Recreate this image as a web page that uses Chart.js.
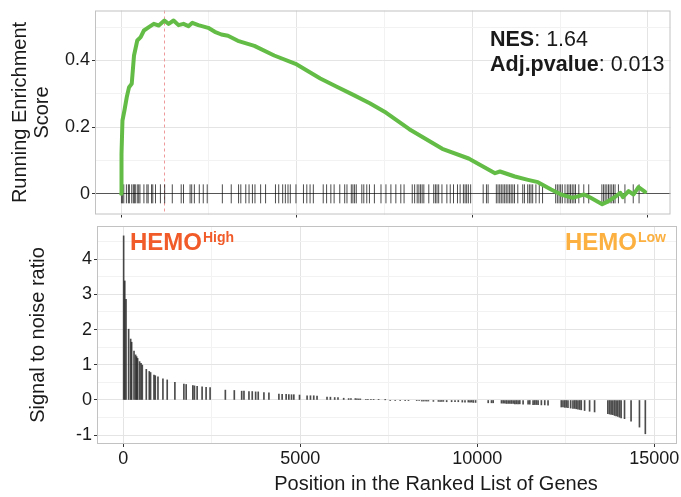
<!DOCTYPE html>
<html>
<head>
<meta charset="utf-8">
<script src="https://cdn.jsdelivr.net/npm/chart.js@4.4.1/dist/chart.umd.min.js"></script>
<style>
	body { margin: 0; background: #fff; }
	#wrap { position: relative; width: 681px; height: 497px; }
	canvas { position: absolute; left: 0; }
	#chart__es { top: 0; }
	#chart__snr { top: 220px; }
</style>
</head>
<body>
<div id="wrap">
	<canvas id="chart__es" width="681" height="225"></canvas>
	<canvas id="chart__snr" width="681" height="277"></canvas>
</div>
<script>
// Running enrichment score
const esPosition = [0, 10, 37, 93, 160, 225, 301, 366, 459, 555, 648, 789, 930, 1070, 1231, 1352, 1493, 1634, 1775, 1916, 2028, 2197, 2479, 2667, 2854, 3042, 3324, 3794, 4358, 4967, 5671, 6141, 6611, 7080, 7550, 8206, 9146, 9896, 10648, 10789, 11212, 11587, 11869, 12245, 12527, 12854, 13184, 13372, 13700, 13840, 14029, 14216, 14290, 14451, 14592, 14733, 14921];
const esScore = [0, 0.12, 0.22, 0.25, 0.29, 0.32, 0.33, 0.415, 0.46, 0.47, 0.49, 0.5, 0.51, 0.505, 0.52, 0.51, 0.52, 0.506, 0.51, 0.503, 0.513, 0.506, 0.498, 0.486, 0.478, 0.474, 0.459, 0.444, 0.415, 0.39, 0.346, 0.321, 0.297, 0.272, 0.243, 0.194, 0.135, 0.106, 0.062, 0.067, 0.052, 0.042, 0.035, 0.013, -0.002, -0.012, -0.002, -0.012, -0.031, -0.024, -0.012, 0.003, -0.01, 0.008, -0.002, 0.02, 0.006];

// Gene-set members: rank position and signal to noise ratio
const hitPosition = [8, 40, 75, 149, 206, 234, 301, 346, 375, 403, 459, 499, 535, 648, 732, 769, 865, 901, 978, 1118, 1239, 1456, 1710, 1775, 1963, 2009, 2085, 2225, 2338, 2451, 2882, 3135, 3344, 3408, 3549, 3642, 3738, 3811, 3972, 4113, 4395, 4487, 4600, 4676, 4752, 4817, 4978, 5192, 5287, 5380, 5473, 5755, 5851, 5972, 6065, 6226, 6366, 6431, 6555, 6600, 6648, 6696, 6854, 6910, 6995, 7071, 7212, 7400, 7541, 7682, 7823, 7964, 8057, 8290, 8358, 8431, 8479, 8527, 8572, 8620, 8761, 8902, 8950, 8995, 9043, 9136, 9276, 9372, 9465, 9578, 9654, 9747, 9795, 9840, 9888, 9953, 10310, 10403, 10451, 10685, 10733, 10781, 10826, 10874, 10922, 10967, 11015, 11063, 11108, 11155, 11203, 11296, 11437, 11485, 11578, 11626, 11672, 11720, 11812, 11908, 12001, 12375, 12423, 12471, 12516, 12564, 12640, 12705, 12753, 12798, 12846, 12894, 12939, 13034, 13175, 13316, 13691, 13739, 13784, 13832, 13880, 13925, 13973, 14021, 14066, 14162, 14347, 14584, 14750];
const hitMetric = [4.66, 3.38, 2.86, 2.01, 1.73, 1.64, 1.39, 1.28, 1.23, 1.18, 1.09, 1.04, 0.99, 0.87, 0.81, 0.78, 0.71, 0.69, 0.66, 0.6, 0.57, 0.5, 0.45, 0.44, 0.41, 0.4, 0.39, 0.37, 0.36, 0.35, 0.28, 0.27, 0.25, 0.25, 0.24, 0.24, 0.23, 0.23, 0.21, 0.2, 0.17, 0.16, 0.16, 0.15, 0.15, 0.15, 0.14, 0.12, 0.12, 0.12, 0.11, 0.08, 0.08, 0.07, 0.07, 0.05, 0.04, 0.04, 0.04, 0.03, 0.03, 0.03, 0.02, 0.02, 0.02, 0.01, 0.01, 0.005, -0.01, -0.01, -0.01, -0.02, -0.02, -0.02, -0.02, -0.03, -0.03, -0.03, -0.03, -0.03, -0.04, -0.04, -0.04, -0.04, -0.04, -0.05, -0.05, -0.05, -0.05, -0.06, -0.06, -0.06, -0.06, -0.06, -0.07, -0.07, -0.08, -0.08, -0.08, -0.09, -0.09, -0.09, -0.1, -0.1, -0.1, -0.1, -0.1, -0.11, -0.11, -0.11, -0.11, -0.12, -0.12, -0.12, -0.13, -0.13, -0.13, -0.13, -0.14, -0.14, -0.15, -0.2, -0.2, -0.21, -0.21, -0.22, -0.23, -0.24, -0.24, -0.25, -0.26, -0.27, -0.28, -0.3, -0.32, -0.34, -0.39, -0.4, -0.41, -0.42, -0.44, -0.45, -0.47, -0.49, -0.51, -0.53, -0.6, -0.77, -0.96];

// Tick labels and grid positions
const xMajorTicks = [0, 5000, 10000, 15000];
const xMinorTicks = [2500, 7500, 12500];
const esMajorTicks = [0, 0.2, 0.4];
const esMinorTicks = [0.1, 0.3, 0.5];
const snrMajorTicks = [-1, 0, 1, 2, 3, 4];
const snrMinorTicks = [-0.5, 0.5, 1.5, 2.5, 3.5, 4.5];

// Annotation texts
const xTitle = "Position in the Ranked List of Genes";
const statNames = ["NES", "Adj.pvalue"];
const statValues = ["1.64", "0.013"];
const groupNames = ["HEMO", "HEMO"];
const groupTags = ["High", "Low"];
const groupColors = ["#f15a29", "#fbb040"];

const FONT = "'Liberation Sans', Arial, Helvetica, sans-serif";
Chart.defaults.font.family = FONT;
Chart.defaults.color = "#1a1a1a";
Chart.defaults.animation = false;

document.addEventListener("DOMContentLoaded", () => {
	initCharts();
});

const initCharts = () => {
	initChartES();
	initChartSNR();
};

// Grid helpers (major lines darker than minor ones, like ggplot)
const gridColor = (major, zeroColor) => (c) => {
	const v = c.tick ? c.tick.value : null;
	if (zeroColor && v === 0) return zeroColor;
	return major.includes(v) ? "#e4e4e4" : "#f2f2f2";
};
const tickColor = (major) => (c) => (c.tick && major.includes(c.tick.value) ? "#333" : "rgba(0,0,0,0)");
const setTicks = (major, minor) => (scale) => {
	scale.ticks = [...major, ...minor].sort((a, b) => a - b).map((value) => ({ value }));
};
// Keep the panel where the layout padding puts it
const noLabelPadding = (scale) => {
	scale.paddingTop = 0;
	scale.paddingBottom = 0;
	scale.paddingLeft = 0;
	scale.paddingRight = 0;
};

const createXScale = (showLabels, height) => ({
	type: "linear",
	min: -745,
	max: 15645,
	offset: false,
	afterBuildTicks: setTicks(xMajorTicks, xMinorTicks),
	afterFit: (scale) => {
		scale.height = height;
		noLabelPadding(scale);
	},
	ticks: {
		display: showLabels,
		autoSkip: false,
		maxRotation: 0,
		padding: 1,
		font: { size: 18 },
		callback: (v) => (xMajorTicks.includes(v) ? String(v) : ""),
	},
	grid: {
		color: gridColor(xMajorTicks),
		tickColor: tickColor(xMajorTicks),
		tickLength: 3,
		offset: false,
	},
	border: { display: false },
	title: { display: false },
});

const createYScale = (min, max, major, minor, width, title, titlePad) => ({
	min,
	max,
	afterBuildTicks: setTicks(major, minor),
	afterFit: (scale) => {
		scale.width = width;
		noLabelPadding(scale);
	},
	ticks: {
		autoSkip: false,
		padding: 2,
		font: { size: 18 },
		callback: (v) => (major.includes(v) ? String(v) : ""),
	},
	grid: {
		color: gridColor(major, min < 0 && max < 1 ? "#555" : null),
		tickColor: tickColor(major),
		tickLength: 3,
	},
	border: { display: false },
	title: {
		display: true,
		text: title,
		font: { size: 20, lineHeight: 1.1 },
		padding: { top: titlePad, bottom: 0 },
	},
});

// Grey frame round the panel
const panelBorder = {
	id: "panelBorder",
	afterDraw: (chart) => {
		const { ctx, chartArea: a } = chart;
		ctx.save();
		ctx.strokeStyle = "#c2c2c2";
		ctx.lineWidth = 1;
		ctx.strokeRect(a.left + 0.5, a.top + 0.5, a.right - a.left - 1, a.bottom - a.top - 1);
		ctx.restore();
	},
};

// Dashed line at the maximum of the running score
const peakLine = {
	id: "peakLine",
	beforeDatasetsDraw: (chart) => {
		const { ctx, chartArea: a, scales } = chart;
		const peakIndex = esScore.indexOf(Math.max(...esScore));
		const x = Math.round(scales.x.getPixelForValue(esPosition[peakIndex])) + 0.5;
		ctx.save();
		ctx.strokeStyle = "#ee9a9a";
		ctx.lineWidth = 1;
		ctx.setLineDash([3, 3]);
		ctx.beginPath();
		ctx.moveTo(x, a.top);
		ctx.lineTo(x, a.bottom);
		ctx.stroke();
		ctx.restore();
	},
};

// Mixed bold / regular text for the statistics
const statsText = {
	id: "statsText",
	afterDraw: (chart) => {
		const { ctx, chartArea: a } = chart;
		ctx.save();
		ctx.fillStyle = "#1a1a1a";
		ctx.textBaseline = "alphabetic";
		statNames.forEach((name, i) => {
			const x = a.left + 395;
			const y = a.top + 35 + i * 25;
			ctx.font = `bold 21.5px ${FONT}`;
			ctx.fillText(name, x, y);
			const w = ctx.measureText(name).width;
			ctx.font = `21.5px ${FONT}`;
			ctx.fillText(`: ${statValues[i]}`, x + w, y);
		});
		ctx.restore();
	},
};

// Group labels with superscripts, and the x axis title
const groupText = {
	id: "groupText",
	afterDraw: (chart) => {
		const { ctx, chartArea: a } = chart;
		ctx.save();
		ctx.textBaseline = "alphabetic";
		groupNames.forEach((name, i) => {
			ctx.font = `bold 24px ${FONT}`;
			const wName = ctx.measureText(name).width;
			ctx.font = `bold 14px ${FONT}`;
			const wTag = ctx.measureText(groupTags[i]).width;
			const x = i === 0 ? a.left + 33 : a.right - 11 - wName - wTag - 1;
			const y = a.top + 24;
			ctx.fillStyle = groupColors[i];
			ctx.font = `bold 24px ${FONT}`;
			ctx.fillText(name, x, y);
			ctx.font = `bold 14px ${FONT}`;
			ctx.fillText(groupTags[i], x + wName + 1, y - 8);
		});
		ctx.fillStyle = "#1a1a1a";
		ctx.font = `20px ${FONT}`;
		ctx.textAlign = "center";
		ctx.textBaseline = "middle";
		ctx.fillText(xTitle, a.left + 339, a.bottom + 40);
		ctx.restore();
	},
};

const initChartES = () => {
	const ctx = document.getElementById("chart__es");
	if (!ctx) return;
	new Chart(ctx, {
		type: "scatter",
		data: {
			datasets: [
				{
					data: esPosition.map((x, i) => ({ x, y: esScore[i] })),
					showLine: true,
					borderColor: "#63bc46",
					borderWidth: 4,
					borderJoinStyle: "round",
					borderCapStyle: "round",
					pointRadius: 0,
					tension: 0,
				},
				{
					data: hitPosition.map((x) => ({ x, y: 0 })),
					pointStyle: "line",
					rotation: 90,
					pointRadius: 9.5,
					pointBorderWidth: 1,
					borderColor: "rgba(0,0,0,0.7)",
					pointBorderColor: "rgba(0,0,0,0.7)",
				},
			],
		},
		options: {
			responsive: false,
			layout: { padding: { left: 0, top: 9, right: 3, bottom: 0 } },
			plugins: { legend: { display: false }, tooltip: { enabled: false } },
			scales: {
				x: createXScale(false, 8),
				y: createYScale(-0.062, 0.55, esMajorTicks, esMinorTicks, 95, ["Running Enrichment", "Score"], 9),
			},
		},
		plugins: [peakLine, panelBorder, statsText],
	});
};

const initChartSNR = () => {
	const ctx = document.getElementById("chart__snr");
	if (!ctx) return;
	new Chart(ctx, {
		type: "bar",
		data: {
			datasets: [
				{
					data: hitPosition.map((x, i) => ({ x, y: hitMetric[i] })),
					backgroundColor: "rgba(25,25,25,0.78)",
					barThickness: 1,
					borderWidth: 0,
				},
			],
		},
		options: {
			responsive: false,
			layout: { padding: { left: 0, top: 6, right: 4, bottom: 0 } },
			plugins: { legend: { display: false }, tooltip: { enabled: false } },
			scales: {
				x: createXScale(true, 53),
				y: createYScale(-1.25, 4.94, snrMajorTicks, snrMinorTicks, 97, "Signal to noise ratio", 27),
			},
		},
		plugins: [panelBorder, groupText],
	});
};
</script>
</body>
</html>
